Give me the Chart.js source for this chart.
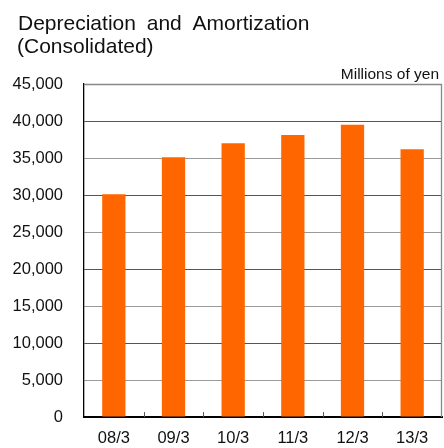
<!DOCTYPE html>
<html>
<head>
<meta charset="utf-8">
<script src="https://cdn.jsdelivr.net/npm/chart.js@4.4.0/dist/chart.umd.min.js"></script>
<style>
  html, body { margin: 0; padding: 0; background: #fff; }
  #wrap { width: 444px; height: 448px; position: relative; }
</style>
</head>
<body>
<div id="wrap"><canvas id="c" width="444" height="448"></canvas></div>
<script>
const categories = ["08/3", "09/3", "10/3", "11/3", "12/3", "13/3"];
const values = [30100, 35100, 37000, 38100, 39500, 36200];
const titleLines = ["Depreciation and Amortization", "(Consolidated)"];
const unitLabel = "Millions of yen";
const yMin = 0, yMax = 45000, yStep = 5000;

const FONT = "'Liberation Sans', Arial, Helvetica, sans-serif";

function drawSpacedText(ctx, text, x, y, extraSpace) {
  const words = text.split(' ');
  const sp = ctx.measureText(' ').width + extraSpace;
  let cx = x;
  words.forEach((w) => {
    ctx.fillText(w, cx, y);
    cx += ctx.measureText(w).width + sp;
  });
}

const textsPlugin = {
  id: 'texts',
  afterDraw(chart) {
    const { ctx, chartArea: a } = chart;
    ctx.save();
    ctx.fillStyle = '#111';
    ctx.textBaseline = 'alphabetic';
    ctx.textAlign = 'left';
    ctx.font = "21px " + FONT;
    drawSpacedText(ctx, titleLines[0], 18, 29.5, 5);
    drawSpacedText(ctx, titleLines[1], 17, 53, 0);
    ctx.font = "15.5px " + FONT;
    ctx.textAlign = 'right';
    ctx.fillText(unitLabel, a.right - 3, 78.5);
    ctx.restore();
  }
};

const frameAndTicks = {
  id: 'frameAndTicks',
  afterDraw(chart) {
    const { ctx, chartArea: a } = chart;
    const xs = chart.scales.x;
    ctx.save();
    ctx.strokeStyle = '#888';
    ctx.lineWidth = 1.3;
    ctx.beginPath();
    ctx.moveTo(a.left, a.top + 0.5);
    ctx.lineTo(a.right - 0.5, a.top + 0.5);
    ctx.lineTo(a.right - 0.5, a.bottom);
    ctx.stroke();
    ctx.strokeStyle = '#555';
    ctx.lineWidth = 1;
    ctx.beginPath();
    for (let i = 1; i < categories.length; i++) {
      const x = Math.round((xs.getPixelForValue(i - 1) + xs.getPixelForValue(i)) / 2) + 0.5;
      ctx.moveTo(x, a.bottom);
      ctx.lineTo(x, a.bottom - 5);
    }
    ctx.stroke();
    ctx.restore();
  }
};

new Chart(document.getElementById('c'), {
  type: 'bar',
  data: {
    labels: categories,
    datasets: [{
      data: values,
      backgroundColor: '#ff6600',
      borderWidth: 0,
      categoryPercentage: 1.0,
      barPercentage: 0.39
    }]
  },
  options: {
    responsive: false,
    animation: false,
    devicePixelRatio: 1,
    layout: { padding: { left: 0, right: 2, top: 84, bottom: 0 } },
    plugins: {
      legend: { display: false },
      tooltip: { enabled: false },
      title: { display: false },
      subtitle: { display: false }
    },
    scales: {
      x: {
        offset: true,
        grid: { display: false, drawTicks: false },
        border: { display: true, color: '#000', width: 2 },
        ticks: {
          color: '#111',
          padding: 11,
          font: { family: FONT, size: 16.5 },
          maxRotation: 0
        },
        afterFit(scale) { scale.height = 27; }
      },
      y: {
        min: yMin,
        max: yMax,
        grid: {
          color: (ctx) => (ctx.tick && ctx.tick.value % 10000 === 0) ? '#555' : '#9a9a9a',
          lineWidth: 1,
          drawTicks: false
        },
        border: { display: true, color: '#000', width: 1.3 },
        ticks: {
          stepSize: yStep,
          color: '#111',
          padding: 21,
          font: { family: FONT, size: 16.5 },
          callback: (v) => v.toLocaleString('en-US')
        },
        afterFit(scale) { scale.width = 84; }
      }
    }
  },
  plugins: [frameAndTicks, textsPlugin]
});
</script>
</body>
</html>
